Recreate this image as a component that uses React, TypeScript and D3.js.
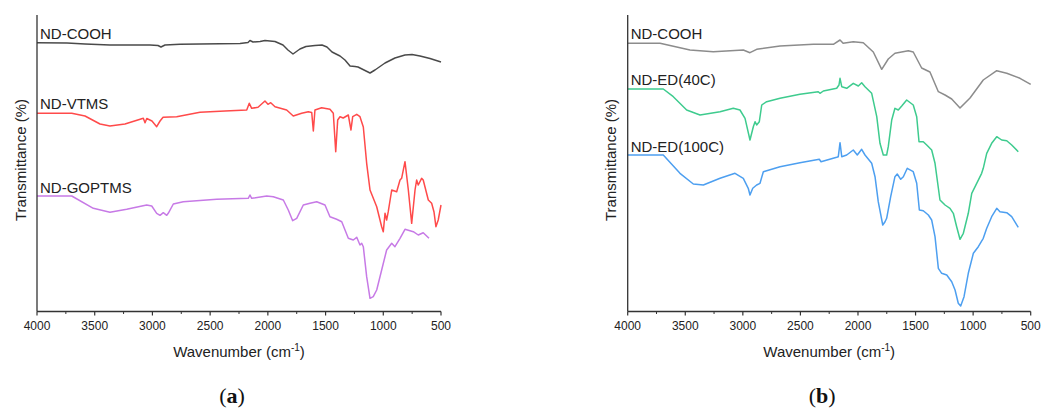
import React from "react";
import * as d3 from "d3";

type Pt = [number, number];

// Wavenumber (cm-1), transmittance (arbitrary, offset) pairs
const aCOOH: Pt[] = [
  [4000, 268.8], [3740, 268.5], [3584, 267.5], [3368, 266.5], [3194, 266.5], [3021, 266.5], [2952, 266],
  [2926, 264.5], [2891, 266.5], [2761, 267.2], [2588, 267.5], [2415, 267.8], [2241, 268], [2172, 269],
  [2155, 271], [2129, 269.5], [2068, 270], [2025, 271], [1982, 270.5], [1938, 270], [1869, 266.5],
  [1826, 261.5], [1782, 257.5], [1722, 262.5], [1670, 265], [1592, 266], [1531, 266.5], [1488, 264.5],
  [1444, 259.5], [1401, 257], [1375, 255.5], [1332, 251.5], [1288, 245.5], [1245, 245], [1219, 244.5],
  [1167, 241.5], [1115, 238.5], [1072, 241.5], [985, 248.5], [899, 253.5], [812, 256.5], [751, 257],
  [682, 255.5], [595, 253], [500, 249.5],
];

const aVTMS: Pt[] = [
  [4000, 198.2], [3699, 198.2], [3584, 195.5], [3454, 187.5], [3368, 185.5], [3238, 187.5], [3079, 193.2],
  [3064, 188.8], [3049, 193], [3004, 190.5], [2963, 184.8], [2934, 190.5], [2908, 194.2], [2790, 194.8],
  [2588, 199.2], [2371, 200.5], [2183, 201.5], [2161, 208.2], [2140, 203.2], [2085, 204.2], [2025, 210.5],
  [1999, 207.2], [1975, 208.8], [1938, 204.8], [1837, 201.5], [1780, 195.5], [1707, 198.2], [1650, 199.8],
  [1620, 199], [1606, 180.5], [1592, 201.5], [1534, 203.8], [1462, 202.2], [1433, 198.2], [1412, 159.8],
  [1395, 191.5], [1375, 194.8], [1347, 193.5], [1303, 196.5], [1280, 181.5], [1265, 194.8], [1230, 197.2],
  [1202, 194.8], [1173, 184.5], [1144, 148.2], [1115, 121.5], [1057, 104.8], [1014, 84.8], [1000, 79.8],
  [985, 98.2], [971, 91.5], [957, 99.8], [927, 121.5], [884, 119.8], [855, 131.5], [841, 133.2],
  [812, 149.8], [783, 121.5], [754, 88.2], [725, 121.5], [711, 131.5], [697, 126.5], [668, 133.2],
  [654, 131.5], [610, 111.5], [581, 108.2], [561, 99.8], [544, 84.8], [524, 91.5], [500, 106.5],
];

const aGOPTMS: Pt[] = [
  [4000, 115.5], [3699, 115.5], [3512, 103.2], [3368, 99.2], [3223, 102.2], [3050, 106.5], [3006, 105.5],
  [2963, 98.2], [2934, 96.2], [2906, 98.8], [2876, 96.2], [2863, 98.2], [2819, 107.5], [2733, 109.8],
  [2443, 112.2], [2170, 113.2], [2155, 116.5], [2140, 113.2], [2010, 115.5], [1953, 114.8], [1866, 111.5],
  [1823, 101.5], [1785, 90.8], [1750, 93.2], [1693, 106.5], [1635, 108.2], [1577, 109.8], [1505, 106.5],
  [1462, 94.8], [1404, 92.2], [1360, 89.8], [1303, 73.2], [1260, 71.5], [1230, 74.2], [1202, 66.5],
  [1187, 68.2], [1173, 64.8], [1144, 34.8], [1115, 13.2], [1087, 14.8], [1057, 21.5], [1014, 41.5],
  [971, 61.5], [927, 68.2], [899, 64.8], [855, 73.2], [812, 82.2], [740, 79.8], [697, 76.5], [654, 78.8],
  [604, 73.2],
];

const bCOOH: Pt[] = [
  [4000, 268.2], [3719, 268.2], [3459, 261.5], [3257, 259.8], [2996, 261.5], [2938, 258.8], [2880, 262.2],
  [2677, 265.5], [2388, 267.2], [2214, 267.2], [2156, 271.5], [2129, 268.2], [2041, 269.8], [1954, 268.8],
  [1867, 259.5], [1794, 242.2], [1737, 252.5], [1679, 258.2], [1563, 260.8], [1520, 259.5], [1447, 243.5],
  [1375, 239.5], [1302, 219.8], [1244, 216.5], [1186, 212.5], [1114, 203.5], [1027, 213.5], [912, 231.5],
  [795, 240.8], [708, 238.2], [593, 233.2], [500, 227.2],
];

const bED40: Pt[] = [
  [4000, 222.5], [3691, 222.5], [3604, 214.8], [3488, 201.5], [3372, 196.5], [3198, 199.8], [3083, 203.2],
  [3025, 201.5], [2981, 193.2], [2938, 171.5], [2909, 184.8], [2894, 189.8], [2880, 186.5], [2857, 189.8],
  [2836, 206.5], [2793, 209.8], [2677, 213.2], [2504, 217.2], [2345, 219.8], [2330, 218.2], [2301, 220.5],
  [2185, 223.2], [2165, 226.5], [2156, 233.2], [2141, 224.8], [2098, 223.2], [2041, 228.2], [1997, 225.5],
  [1968, 228.8], [1939, 224.8], [1881, 218.2], [1837, 194.8], [1809, 168.2], [1780, 156.5], [1751, 156.5],
  [1737, 164.8], [1707, 191.5], [1679, 203.2], [1650, 201.5], [1620, 205.5], [1577, 211.5], [1520, 206.5],
  [1490, 194.8], [1470, 169.8], [1433, 169.8], [1403, 166.5], [1360, 161.5], [1331, 148.2], [1288, 111.5],
  [1244, 106.5], [1201, 103.2], [1172, 98.2], [1143, 84.8], [1114, 72.2], [1085, 78.2], [1042, 98.2],
  [1012, 118.2], [969, 128.2], [926, 138.2], [912, 143.2], [882, 158.2], [839, 168.2], [795, 174.8],
  [752, 171.5], [708, 170.8], [665, 166.5], [608, 159.8],
];

const bED100: Pt[] = [
  [4000, 156.5], [3691, 156.5], [3546, 138.2], [3430, 127.5], [3343, 126.5], [3198, 133.2], [3068, 138.2],
  [2996, 133.2], [2953, 123.2], [2938, 116.5], [2914, 123.2], [2880, 126.5], [2851, 128.2], [2822, 139.8],
  [2677, 144.8], [2504, 148.8], [2336, 152.2], [2321, 149.8], [2185, 154.2], [2171, 154.8], [2156, 168.8],
  [2141, 154.8], [2098, 156.5], [2041, 161.5], [2006, 156.5], [1968, 162.2], [1939, 156.5], [1881, 148.2],
  [1852, 134.8], [1824, 109.8], [1785, 86.5], [1765, 89.8], [1751, 93.2], [1716, 114.8], [1679, 134.8],
  [1659, 137.5], [1629, 132.2], [1606, 134.8], [1572, 143.2], [1520, 139.8], [1490, 128.2], [1467, 101.5],
  [1433, 100.8], [1389, 96.5], [1360, 91.5], [1331, 74.8], [1302, 43.2], [1273, 38.2], [1229, 36.5],
  [1186, 29.8], [1157, 21.5], [1129, 8.2], [1108, 5.5], [1079, 14.8], [1042, 38.2], [998, 58.2],
  [955, 64.8], [912, 73.2], [882, 83.2], [839, 94.8], [795, 103.2], [767, 99.8], [708, 98.8], [665, 94.8],
  [608, 84.2],
];

const majorTicks = [4000, 3500, 3000, 2500, 2000, 1500, 1000, 500];
const minorTicks = [3750, 3250, 2750, 2250, 1750, 1250, 750];

const seriesA = [
  { name: "ND-COOH", data: aCOOH, color: "#4a4a4a" },
  { name: "ND-VTMS", data: aVTMS, color: "#ff4a4a" },
  { name: "ND-GOPTMS", data: aGOPTMS, color: "#c77ae6" },
];
const seriesB = [
  { name: "ND-COOH", data: bCOOH, color: "#8c8c8c" },
  { name: "ND-ED(40C)", data: bED40, color: "#3ecb8e" },
  { name: "ND-ED(100C)", data: bED100, color: "#4d9ff0" },
];

const FONT = "'Liberation Sans', Arial, sans-serif";

function Panel({ left, right, series, tag, labelYs }: { left: number; right: number; series: typeof seriesA; tag: string; labelYs: number[] }) {
  const top = 15;
  const bottom = 311.5;
  const x = d3.scaleLinear().domain([4000, 500]).range([left, right]);
  const y = d3.scaleLinear().domain([0, 296.5]).range([bottom, top]);
  const line = d3.line<Pt>().x((d) => x(d[0])).y((d) => y(d[1]));
  const cx = (left + right) / 2;
  return (
    <g>
      {series.map((s) => (
        <path key={s.name} d={line(s.data) || ""} fill="none" stroke={s.color} strokeWidth={1.5} strokeLinejoin="round" />
      ))}
      {series.map((s, i) => (
        <text key={s.name + "l"} x={left + 3} y={labelYs[i]} fontSize={15} fontFamily={FONT} fill="#222">
          {s.name}
        </text>
      ))}
      <line x1={left} x2={left} y1={top} y2={bottom} stroke="#333" strokeWidth={1.3} />
      <line x1={left} x2={right} y1={bottom} y2={bottom} stroke="#333" strokeWidth={1.3} />
      {majorTicks.map((t) => (
        <g key={t}>
          <line x1={x(t)} x2={x(t)} y1={bottom} y2={bottom + 4} stroke="#333" strokeWidth={1.2} />
          <text x={x(t)} y={330} textAnchor="middle" fontSize={12} fontFamily={FONT} fill="#222">
            {t}
          </text>
        </g>
      ))}
      {minorTicks.map((t) => (
        <line key={t} x1={x(t)} x2={x(t)} y1={bottom} y2={bottom + 2.5} stroke="#333" strokeWidth={1} />
      ))}
      <text x={cx} y={357} textAnchor="middle" fontSize={15} fontFamily={FONT} fill="#222">
        Wavenumber (cm
        <tspan fontSize={10} dy={-6}>-1</tspan>
        <tspan dy={6}>)</tspan>
      </text>
      <text
        transform={`translate(${left - 17},${160}) rotate(-90)`}
        textAnchor="middle"
        dominantBaseline="central"
        fontSize={15}
        fontFamily={FONT}
        fill="#222"
      >
        Transmittance (%)
      </text>
      <text x={cx - 7} y={403} textAnchor="middle" fontSize={22} fontFamily="'Liberation Serif', 'Times New Roman', serif" fill="#111">
        (<tspan fontWeight="bold">{tag}</tspan>)
      </text>
    </g>
  );
}

export default function App() {
  return (
    <svg width={1042} height={410} style={{ position: "absolute", left: 0, top: 0, background: "#fff" }}>
      <rect width={1042} height={410} fill="#fff" />
      <Panel left={37} right={441} series={seriesA} tag="a" labelYs={[39, 108.5, 193]} />
      <Panel left={627.7} right={1030.7} series={seriesB} tag="b" labelYs={[39, 85, 151.5]} />
    </svg>
  );
}
